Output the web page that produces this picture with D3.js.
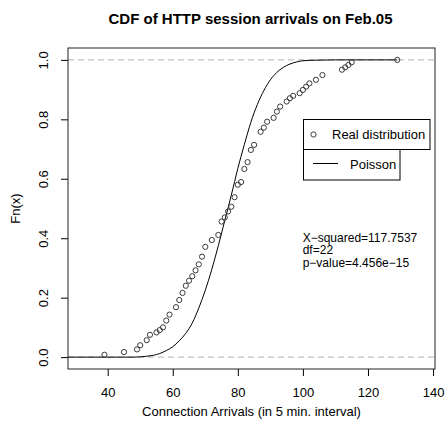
<!DOCTYPE html>
<html>
<head>
<meta charset="utf-8">
<script src="https://cdn.jsdelivr.net/npm/d3@7"></script>
<style>
  html, body { margin: 0; padding: 0; background: #fff; }
  svg { display: block; font-family: "Liberation Sans", Arial, Helvetica, sans-serif; }
</style>
</head>
<body>
<svg id="chart" width="445" height="430"></svg>
<script>
// Empirical CDF of session arrivals per 5-minute interval
const arrivals = [39, 45, 49, 50, 52, 53, 55, 56, 57, 58, 59, 61, 62, 63, 64, 65, 66, 67, 68, 69,
  70, 72, 74, 75, 76, 77, 78, 79, 80, 81, 82, 83, 84, 85, 87, 88, 89, 91, 92, 93,
  95, 96, 97, 99, 100, 101, 102, 104, 106, 112, 113, 114, 115, 129];
const empiricalF = [0.008, 0.017, 0.026, 0.040, 0.057, 0.075, 0.083, 0.091, 0.100, 0.123, 0.143, 0.168, 0.192, 0.216, 0.240, 0.257, 0.272, 0.292, 0.312, 0.338,
  0.371, 0.394, 0.411, 0.456, 0.470, 0.490, 0.506, 0.538, 0.580, 0.589, 0.633, 0.656, 0.697, 0.714, 0.758, 0.772, 0.792, 0.805, 0.826, 0.843,
  0.860, 0.871, 0.879, 0.888, 0.899, 0.910, 0.921, 0.933, 0.949, 0.967, 0.975, 0.983, 0.992, 1.000];

// Fitted Poisson CDF
const poissonX = [20, 48, 52, 54, 56, 58, 60, 62, 64, 66, 68, 70, 72, 74, 76, 78, 80, 82, 84, 86,
  88, 90, 92, 94, 96, 98, 100, 104, 110, 129];
const poissonF = [0, 0, 0.003, 0.006, 0.012, 0.022, 0.035, 0.055, 0.080, 0.115, 0.165, 0.225, 0.295, 0.375, 0.460, 0.545, 0.635, 0.715, 0.790, 0.850,
  0.897, 0.933, 0.958, 0.975, 0.986, 0.993, 0.997, 0.999, 1, 1];

const xTicks = [40, 60, 80, 100, 120, 140];
const yTicks = [0, 0.2, 0.4, 0.6, 0.8, 1.0];
const yTickLabels = ["0.0", "0.2", "0.4", "0.6", "0.8", "1.0"];
const refLevels = [0, 1];

const titleText = "CDF of HTTP session arrivals on Feb.05";
const xLabel = "Connection Arrivals (in 5 min. interval)";
const yLabel = "Fn(x)";
const legendItems = ["Real distribution", "Poisson"];
const statsLines = ["X\u2212squared=117.7537", "df=22", "p\u2212value=4.456e\u221215"];

const svg = d3.select("#chart");
const plot = { left: 68, right: 435, top: 48, bottom: 369 };

const x = d3.scaleLinear().domain([27.8, 140.6]).range([plot.left, plot.right]);
const y = d3.scaleLinear().domain([-0.04, 1.04]).range([plot.bottom, plot.top]);

svg.append("defs").append("clipPath").attr("id", "plotClip")
  .append("rect")
  .attr("x", plot.left).attr("y", plot.top)
  .attr("width", plot.right - plot.left).attr("height", plot.bottom - plot.top);

// Title
svg.append("text")
  .attr("x", 250.5).attr("y", 24)
  .attr("text-anchor", "middle")
  .attr("font-size", 15).attr("font-weight", "bold")
  .attr("fill", "#000")
  .text(titleText);

// Dashed reference lines at 0 and 1
svg.append("g").attr("clip-path", "url(#plotClip)")
  .selectAll("line").data(refLevels).join("line")
  .attr("x1", plot.left).attr("x2", plot.right)
  .attr("y1", d => y(d)).attr("y2", d => y(d))
  .attr("stroke", "#b3b3b3").attr("stroke-width", 1)
  .attr("stroke-dasharray", "6,4");

// Poisson curve
const poissonData = poissonX.map((v, i) => [v, poissonF[i]]);
svg.append("path")
  .datum(poissonData)
  .attr("clip-path", "url(#plotClip)")
  .attr("fill", "none").attr("stroke", "#000").attr("stroke-width", 1)
  .attr("d", d3.line().x(d => x(d[0])).y(d => y(d[1])).curve(d3.curveMonotoneX));

// Empirical points
const ecdfData = arrivals.map((v, i) => [v, empiricalF[i]]);
svg.append("g")
  .selectAll("circle").data(ecdfData).join("circle")
  .attr("cx", d => x(d[0])).attr("cy", d => y(d[1]))
  .attr("r", 2.6)
  .attr("fill", "none").attr("stroke", "#3a3a3a").attr("stroke-width", 1);

// Axes
const xAxis = svg.append("g")
  .attr("transform", `translate(0,${plot.bottom})`)
  .call(d3.axisBottom(x).tickValues(xTicks).tickSize(7).tickSizeOuter(0).tickFormat(d3.format("d")));
xAxis.select(".domain").remove();
xAxis.selectAll(".tick line").attr("stroke", "#000");
xAxis.selectAll(".tick text")
  .attr("y", 28).attr("dy", 0)
  .attr("font-size", 13).attr("font-family", "Liberation Sans, Arial, sans-serif")
  .attr("fill", "#000");

const yAxis = svg.append("g")
  .attr("transform", `translate(${plot.left},0)`)
  .call(d3.axisLeft(y).tickValues(yTicks).tickSize(7).tickSizeOuter(0)
    .tickFormat((d, i) => yTickLabels[i]));
yAxis.select(".domain").remove();
yAxis.selectAll(".tick line").attr("stroke", "#000");
yAxis.selectAll(".tick text")
  .attr("transform", "rotate(-90)")
  .attr("x", 0).attr("y", -20).attr("dy", 0)
  .attr("text-anchor", "middle")
  .attr("font-size", 13).attr("font-family", "Liberation Sans, Arial, sans-serif")
  .attr("fill", "#000");

// Plot frame
svg.append("rect")
  .attr("x", plot.left).attr("y", plot.top)
  .attr("width", plot.right - plot.left).attr("height", plot.bottom - plot.top)
  .attr("fill", "none").attr("stroke", "#222").attr("stroke-width", 1);

// Axis titles
svg.append("text")
  .attr("x", (plot.left + plot.right) / 2).attr("y", 416)
  .attr("text-anchor", "middle").attr("font-size", 13).attr("fill", "#000")
  .text(xLabel);
svg.append("text")
  .attr("transform", `translate(20,${(plot.top + plot.bottom) / 2}) rotate(-90)`)
  .attr("text-anchor", "middle").attr("font-size", 13).attr("fill", "#000")
  .text(yLabel);

// Legend boxes
const legend = svg.append("g");
legend.append("rect")
  .attr("x", 303.5).attr("y", 119.5).attr("width", 126.5).attr("height", 30)
  .attr("fill", "#fff").attr("stroke", "#000").attr("stroke-width", 1);
legend.append("circle")
  .attr("cx", 313.5).attr("cy", 134.5).attr("r", 2.6)
  .attr("fill", "none").attr("stroke", "#3a3a3a").attr("stroke-width", 1);
legend.append("text")
  .attr("x", 332).attr("y", 139).attr("font-size", 13).attr("fill", "#000")
  .text(legendItems[0]);
legend.append("rect")
  .attr("x", 303.5).attr("y", 149.5).attr("width", 96.5).attr("height", 30.5)
  .attr("fill", "#fff").attr("stroke", "#000").attr("stroke-width", 1);
legend.append("line")
  .attr("x1", 313).attr("x2", 338).attr("y1", 163.5).attr("y2", 163.5)
  .attr("stroke", "#000").attr("stroke-width", 1);
legend.append("text")
  .attr("x", 350).attr("y", 169.3).attr("font-size", 13).attr("fill", "#000")
  .text(legendItems[1]);

// Goodness-of-fit statistics
svg.append("g").selectAll("text").data(statsLines).join("text")
  .attr("x", 302.7).attr("y", (d, i) => 241.5 + i * 12.5)
  .attr("font-size", 12).attr("fill", "#000")
  .text(d => d);
</script>
</body>
</html>
